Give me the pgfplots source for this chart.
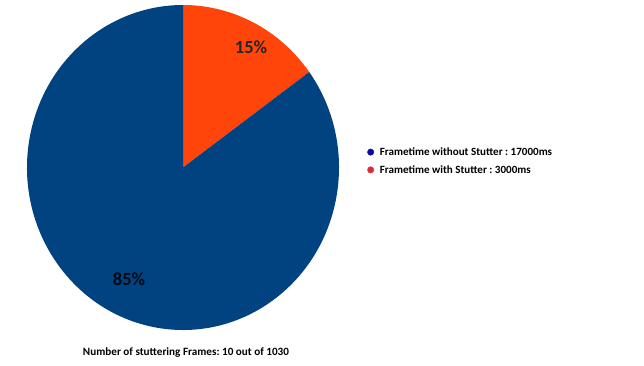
\documentclass[border=0pt]{standalone}
\usepackage{pgfplots}
\usepackage{pgfplotstable}
\pgfplotsset{compat=1.18}
\usepackage{fontspec}
\setmainfont{Carlito}
\frenchspacing
\definecolor{pieblue}{RGB}{1,67,128}
\definecolor{pieorange}{RGB}{255,69,10}
\definecolor{dotblue}{RGB}{10,10,160}
\definecolor{dotred}{RGB}{215,45,55}
\pgfplotstableread{
label value
without 17000
with 3000
}\piedata
\begin{document}
\begin{tikzpicture}
\useasboundingbox (0,0) rectangle (644bp,366bp);
\pgfplotstablegetelem{0}{value}\of\piedata \let\vA\pgfplotsretval
\pgfplotstablegetelem{1}{value}\of\piedata \let\vB\pgfplotsretval
\pgfkeys{/pgf/fpu=true, /pgf/fpu/output format=fixed}
\pgfmathsetmacro\angB{360*\vB/(\vA+\vB)}
\pgfkeys{/pgf/fpu=false}
\pgfmathsetmacro\endB{90-\angB}
\begin{axis}[at={(27bp,36bp)}, anchor=south west, scale only axis,
  width=312bp, height=325bp, xmin=-1, xmax=1, ymin=-1, ymax=1,
  hide axis, clip=false,
  legend style={at={(rel axis cs:1.09,0.52)}, anchor=west, draw=none, fill=none,
    font=\fontsize{11.1}{13}\selectfont\bfseries, inner sep=0pt, row sep=4.5bp},
  legend cell align=left,
  legend image code/.code={\fill[#1] (0bp,0bp) circle (3.2bp); \path (7bp,0bp);}]
\fill[pieorange] (axis cs:0,0) -- (axis cs:0,1) arc[start angle=90, end angle=\endB, radius=1] -- cycle;
\fill[pieblue] (axis cs:0,0) -- (axis cs:{cos(\endB)},{sin(\endB)}) arc[start angle=\endB, end angle=-270, radius=1] -- cycle;
\node[font=\fontsize{18.6}{22}\selectfont\bfseries, text=black!85] at (axis cs:0.436,0.742) {15\%};
\node[font=\fontsize{18.6}{22}\selectfont\bfseries, text=black!85!pieblue] at (axis cs:-0.346,-0.686) {85\%};
\addlegendimage{dotblue}
\addlegendentry{Frametime without Stutter : 17000ms}
\addlegendimage{dotred}
\addlegendentry{Frametime with Stutter : 3000ms}
\end{axis}
\node[font=\fontsize{11.2}{13}\selectfont\bfseries] at (186bp,13bp) {Number of stuttering Frames: 10 out of 1030};
\end{tikzpicture}
\end{document}
